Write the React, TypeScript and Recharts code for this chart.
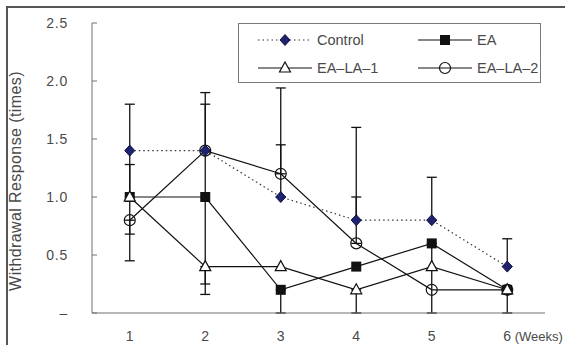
import React from "react";
import {
  LineChart,
  Line,
  XAxis,
  YAxis,
  ErrorBar,
  Legend,
} from "recharts";

const weeks = [1, 2, 3, 4, 5, 6];
const control = [1.4, 1.4, 1.0, 0.8, 0.8, 0.4];
const ea = [1.0, 1.0, 0.2, 0.4, 0.6, 0.2];
const eaLa1 = [1.0, 0.4, 0.4, 0.2, 0.4, 0.2];
const eaLa2 = [0.8, 1.4, 1.2, 0.6, 0.2, 0.2];

// [below, above] error lengths, null where no bar is drawn
const controlErr = [[0.4, 0.4], [0, 0.5], [0, 0.45], [0, 0.8], [0, 0.37], [0, 0.24]];
const eaErr = [[0.32, 0.28], [0.84, 0.4], [0.2, 0], null, [0.6, 0], [0.2, 0]];
const eaLa1Err = [null, [0.15, 0], null, [0.2, 0], null, null];
const eaLa2Err = [[0.35, 0], [0, 0.4], [0, 0.74], [0, 0.4], null, null];

const yTicks = [0, 0.5, 1.0, 1.5, 2.0, 2.5];
const minorTicks = [1.5, 2.5, 3.5, 4.5, 5.5, 6.5];

const data = weeks.map((w, i) => ({
  week: w,
  control: control[i],
  ea: ea[i],
  eaLa1: eaLa1[i],
  eaLa2: eaLa2[i],
  controlErr: controlErr[i] ?? undefined,
  eaErr: eaErr[i] ?? undefined,
  eaLa1Err: eaLa1Err[i] ?? undefined,
  eaLa2Err: eaLa2Err[i] ?? undefined,
}));

const FONT = "'Liberation Sans', Arial, sans-serif";
const TEXT = "#4a4a4a";
const AXIS = "#707070";
const NAVY = "#1f2270";

const Diamond = ({ cx, cy }: any) =>
  cx == null ? null : (
    <polygon
      points={`${cx},${cy - 5.5} ${cx + 5},${cy} ${cx},${cy + 5.5} ${cx - 5},${cy}`}
      fill={NAVY}
      stroke="#10123f"
      strokeWidth={1}
    />
  );

const Square = ({ cx, cy }: any) =>
  cx == null ? null : <rect x={cx - 5} y={cy - 5} width={10} height={10} fill="#111" />;

const Triangle = ({ cx, cy }: any) =>
  cx == null ? null : (
    <polygon
      points={`${cx},${cy - 6} ${cx + 5.5},${cy + 4} ${cx - 5.5},${cy + 4}`}
      fill="#fff"
      stroke="#111"
      strokeWidth={1.2}
    />
  );

const Circle = ({ cx, cy }: any) =>
  cx == null ? null : <circle cx={cx} cy={cy} r={5.5} fill="none" stroke="#111" strokeWidth={1.2} />;

const legendItems = [
  { name: "Control", dash: "1.5 3", Icon: Diamond, col: 0, row: 0 },
  { name: "EA", dash: undefined, Icon: Square, col: 1, row: 0 },
  { name: "EA\u2013LA\u20131", dash: undefined, Icon: Triangle, col: 0, row: 1 },
  { name: "EA\u2013LA\u20132", dash: undefined, Icon: Circle, col: 1, row: 1 },
];

function LegendBox() {
  return (
    <svg width={303} height={60} style={{ display: "block" }}>
      <rect x={0.5} y={0.5} width={302} height={59} fill="#fff" stroke="#7a7a7a" />
      {legendItems.map((it) => {
        const x0 = it.col === 0 ? 20 : 180;
        const y0 = it.row === 0 ? 17 : 45;
        const Icon = it.Icon;
        return (
          <g key={it.name}>
            <line
              x1={x0}
              x2={x0 + 54}
              y1={y0}
              y2={y0}
              stroke={it.dash ? "#333" : "#111"}
              strokeWidth={1.2}
              strokeDasharray={it.dash}
            />
            <Icon cx={x0 + 27} cy={y0} />
            <text
              x={x0 + 59}
              y={y0}
              dy="0.36em"
              fontSize={14.5}
              fill={TEXT}
              fontFamily={FONT}
            >
              {it.name}
            </text>
          </g>
        );
      })}
    </svg>
  );
}

const WeekTick = ({ x, y, payload }: any) => (
  <text
    x={x}
    y={y}
    dy="0.71em"
    textAnchor="start"
    dx={-4}
    fontSize={14}
    fill={TEXT}
    fontFamily={FONT}
  >
    {payload.value}
    {payload.value === 6 ? <tspan fontSize={13}> (Weeks)</tspan> : null}
  </text>
);

const YLabel = ({ viewBox }: any) => {
  const cx = viewBox.x + 15;
  const cy = viewBox.y + viewBox.height / 2 + 13;
  return (
    <text
      x={cx}
      y={cy}
      transform={`rotate(-90, ${cx}, ${cy})`}
      textAnchor="middle"
      dominantBaseline="central"
      fontSize={16}
      letterSpacing={0.4}
      fill={TEXT}
      fontFamily={FONT}
    >
      Withdrawal Response (times)
    </text>
  );
};

export default function App() {
  const err = { width: 5, stroke: "#111", strokeWidth: 1.3, direction: "y" as const, isAnimationActive: false };
  return (
    <div
      style={{
        position: "absolute",
        left: 0,
        top: 0,
        width: 565,
        height: 345,
        background: "#fff",
        overflow: "hidden",
        fontFamily: FONT,
      }}
    >
      <div
        style={{
          position: "absolute",
          left: 6,
          top: 6,
          width: 600,
          height: 400,
          borderLeft: "2px solid #555",
          borderTop: "2px solid #555",
        }}
      />
      <LineChart
        width={565}
        height={345}
        data={data}
        margin={{ top: 23, right: 20, bottom: 2, left: 0 }}
        style={{ position: "absolute", left: 0, top: 0 }}
      >
        <XAxis
          xAxisId="minor"
          dataKey="week"
          type="number"
          domain={[0.5, 6.5]}
          ticks={minorTicks}
          tick={false}
          tickSize={-5}
          axisLine={false}
          height={0}
          stroke={AXIS}
        />
        <XAxis
          dataKey="week"
          type="number"
          domain={[0.5, 6.5]}
          ticks={weeks}
          tickLine={false}
          tickSize={6}
          tickMargin={12}
          height={30}
          stroke={AXIS}
          tick={<WeekTick />}
        />
        <YAxis
          type="number"
          domain={[0, 2.5]}
          ticks={yTicks}
          width={92}
          tickSize={-5}
          tickMargin={29}
          stroke={AXIS}
          tick={{ fontSize: 14, fill: TEXT, fontFamily: FONT, letterSpacing: 0.8 }}
          tickFormatter={(v: number) => (v === 0 ? "\u2013" : v.toFixed(1))}
          label={{ content: <YLabel /> }}
        />
        <Legend
          layout="vertical"
          align="center"
          verticalAlign="middle"
          wrapperStyle={{ left: 238, top: 23, width: 303, height: 60 }}
          content={() => <LegendBox />}
        />
        <Line
          dataKey="eaLa2"
          stroke="#111"
          strokeWidth={1.2}
          dot={<Circle />}
          activeDot={false}
          isAnimationActive={false}
        >
          <ErrorBar dataKey="eaLa2Err" {...err} />
        </Line>
        <Line
          dataKey="ea"
          stroke="#111"
          strokeWidth={1.2}
          dot={<Square />}
          activeDot={false}
          isAnimationActive={false}
        >
          <ErrorBar dataKey="eaErr" {...err} />
        </Line>
        <Line
          dataKey="eaLa1"
          stroke="#111"
          strokeWidth={1.2}
          dot={<Triangle />}
          activeDot={false}
          isAnimationActive={false}
        >
          <ErrorBar dataKey="eaLa1Err" {...err} />
        </Line>
        <Line
          dataKey="control"
          stroke="#333"
          strokeWidth={1.2}
          strokeDasharray="1.5 3"
          dot={<Diamond />}
          activeDot={false}
          isAnimationActive={false}
        >
          <ErrorBar dataKey="controlErr" {...err} />
        </Line>
      </LineChart>
    </div>
  );
}
